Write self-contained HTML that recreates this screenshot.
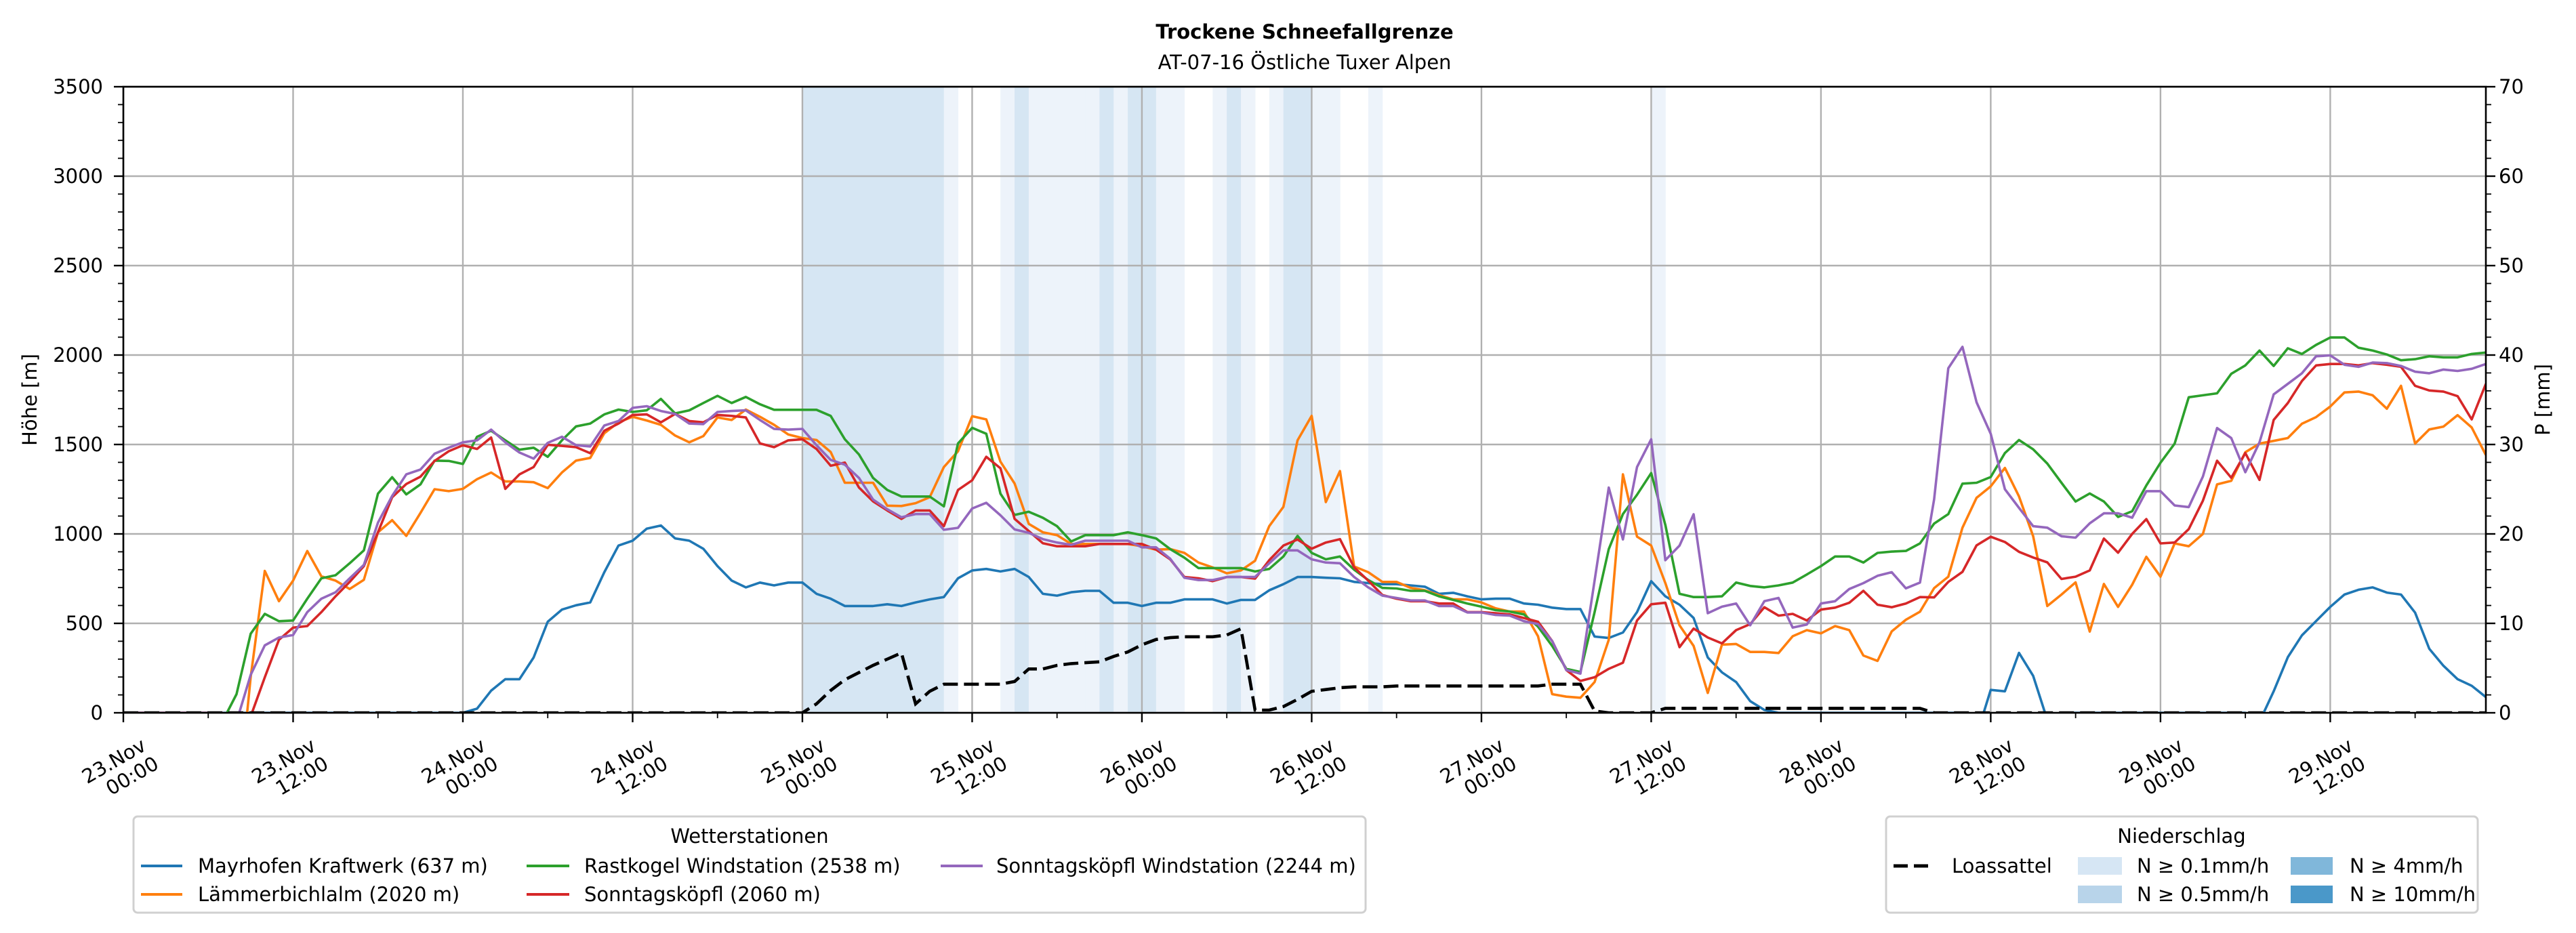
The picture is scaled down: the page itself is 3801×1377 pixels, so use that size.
<!DOCTYPE html>
<html><head><meta charset="utf-8"><style>
html,body{margin:0;padding:0;background:#fff;}
svg{display:block;font-family:"DejaVu Sans","Liberation Sans",sans-serif;}
</style></head><body>
<svg id="chart" xmlns="http://www.w3.org/2000/svg" width="3801" height="1377" viewBox="0 0 3801 1377">
<rect x="0" y="0" width="3801" height="1377" fill="#fff"/>
<text x="1925" y="57" text-anchor="middle" font-size="29" font-weight="bold">Trockene Schneefallgrenze</text>
<text x="1925" y="102" text-anchor="middle" font-size="29">AT-07-16 Östliche Tuxer Alpen</text>
<defs><clipPath id="pc"><rect x="182" y="128" width="3486" height="924"/></clipPath></defs>
<g id="bands" clip-path="url(#pc)"></g>
<g id="grid"></g>
<g id="series" clip-path="url(#pc)"></g>
<g id="axes"></g>
<text transform="translate(54,590) rotate(-90)" text-anchor="middle" font-size="29">Höhe [m]</text>
<text transform="translate(3762,590) rotate(-90)" text-anchor="middle" font-size="29">P [mm]</text>
<g>
<rect x="197" y="1205" width="1818" height="142" rx="6" fill="#fff" stroke="#d0d0d0" stroke-width="3"/>
<text x="1106" y="1244" text-anchor="middle" font-size="29">Wetterstationen</text>
<g><line x1="208" y1="1278" x2="269" y2="1278" stroke="#1f77b4" stroke-width="4"/><text x="292" y="1288" font-size="29">Mayrhofen Kraftwerk (637 m)</text></g>
<g><line x1="208" y1="1320" x2="269" y2="1320" stroke="#ff7f0e" stroke-width="4"/><text x="292" y="1330" font-size="29">Lämmerbichlalm (2020 m)</text></g>
<g><line x1="777" y1="1278" x2="840" y2="1278" stroke="#2ca02c" stroke-width="4"/><text x="862" y="1288" font-size="29">Rastkogel Windstation (2538 m)</text></g>
<g><line x1="777" y1="1320" x2="840" y2="1320" stroke="#d62728" stroke-width="4"/><text x="862" y="1330" font-size="29">Sonntagsköpfl (2060 m)</text></g>
<g><line x1="1388" y1="1278" x2="1450" y2="1278" stroke="#9467bd" stroke-width="4"/><text x="1470" y="1288" font-size="29">Sonntagsköpfl Windstation (2244 m)</text></g>
</g>
<g>
<rect x="2783" y="1205" width="873" height="142" rx="6" fill="#fff" stroke="#d0d0d0" stroke-width="3"/>
<text x="3219" y="1244" text-anchor="middle" font-size="29">Niederschlag</text>
<g><line x1="2794" y1="1278" x2="2853" y2="1278" stroke="#000" stroke-width="5" stroke-dasharray="21 9"/><text x="2880" y="1288" font-size="29">Loassattel</text></g>
<g><rect x="3066" y="1265" width="65" height="26" fill="#d6e6f4"/><text x="3153" y="1288" font-size="29">N ≥ 0.1mm/h</text></g>
<g><rect x="3066" y="1307" width="65" height="26" fill="#b8d4ea"/><text x="3153" y="1330" font-size="29">N ≥ 0.5mm/h</text></g>
<g><rect x="3380" y="1265" width="62" height="26" fill="#80b7da"/><text x="3467" y="1288" font-size="29">N ≥ 4mm/h</text></g>
<g><rect x="3380" y="1307" width="62" height="26" fill="#4a98c9"/><text x="3467" y="1330" font-size="29">N ≥ 10mm/h</text></g>
</g>
</svg>
<script>
const xTickLabels = ["23.Nov|00:00","23.Nov|12:00","24.Nov|00:00","24.Nov|12:00","25.Nov|00:00","25.Nov|12:00","26.Nov|00:00","26.Nov|12:00","27.Nov|00:00","27.Nov|12:00","28.Nov|00:00","28.Nov|12:00","29.Nov|00:00","29.Nov|12:00"];
const yTicks = [0,500,1000,1500,2000,2500,3000,3500];
const y2Ticks = [0,10,20,30,40,50,60,70];
const mayrhofen = [0,0,0,0,0,0,0,0,0,0,0,0,
0,0,0,0,0,0,0,0,0,0,0,0,
0,23,124,188,188,309,509,577,601,617,786,935,
962,1029,1047,975,962,917,820,739,701,728,712,728,
728,665,638,597,597,597,607,597,617,634,647,752,
796,804,790,804,759,665,655,674,682,682,615,615,
597,615,615,634,634,634,611,631,631,685,719,759,
759,755,752,732,725,719,719,712,705,665,671,651,
634,638,638,611,604,588,580,580,426,418,449,563,
736,651,604,530,309,226,172,65,16,0,0,0,
0,0,0,0,0,0,0,0,0,0,0,-128,
128,120,335,207,-40,0,0,0,0,0,0,0,
0,0,0,0,0,0,0,-50,120,311,433,513,
592,661,688,701,672,661,560,358,263,188,151,88];
const laemmerbichl = [0,0,0,0,0,0,0,0,-600,200,793,624,
739,904,763,739,692,743,1009,1077,989,1117,1250,1239,
1252,1306,1343,1293,1293,1289,1256,1343,1410,1425,1563,1624,
1655,1634,1610,1550,1512,1547,1651,1637,1695,1655,1610,1556,
1536,1525,1458,1286,1286,1286,1158,1156,1172,1205,1374,1462,
1658,1640,1404,1282,1056,1009,993,944,944,944,944,944,
931,912,915,894,840,813,780,796,850,1043,1151,1523,
1660,1178,1351,818,786,732,732,698,685,658,634,634,
617,584,566,566,428,104,90,84,172,408,1333,985,
935,725,489,374,111,381,385,340,340,334,428,462,
444,485,462,320,290,455,520,565,697,761,1035,1202,
1266,1369,1210,987,597,661,729,454,720,592,716,872,
761,947,931,1000,1277,1297,1457,1505,1520,1536,1616,1653,
1712,1791,1796,1775,1700,1828,1505,1584,1600,1664,1595,1441];
const rastkogel = [0,0,0,0,0,0,0,-50,104,442,553,512,
516,638,752,769,836,908,1225,1317,1221,1277,1410,1408,
1391,1543,1577,1523,1471,1482,1431,1523,1601,1617,1668,1695,
1682,1691,1755,1674,1691,1732,1772,1732,1766,1725,1694,1694,
1694,1694,1660,1529,1444,1313,1246,1209,1209,1209,1154,1506,
1593,1560,1225,1106,1124,1090,1043,958,993,993,993,1009,
993,975,915,867,809,809,809,809,790,804,874,989,
894,858,874,800,742,698,695,682,682,651,631,611,
593,574,566,550,482,374,246,228,563,915,1111,1219,
1340,1050,665,647,647,651,728,709,701,712,728,773,
820,874,874,840,894,901,905,947,1058,1111,1281,1286,
1318,1452,1525,1473,1393,1286,1181,1226,1181,1095,1127,1271,
1398,1505,1764,1775,1786,1895,1942,2025,1939,2038,2006,2057,
2098,2098,2041,2025,2003,1971,1977,1993,1987,1987,2006,2014];
const sonntag = [0,0,0,0,0,0,0,0,-200,-20,198,408,
476,485,563,651,732,820,1009,1205,1279,1320,1408,1462,
1496,1475,1539,1252,1333,1374,1498,1492,1485,1451,1577,1617,
1665,1668,1624,1671,1631,1624,1665,1660,1651,1506,1485,1523,
1529,1475,1381,1399,1259,1182,1131,1084,1131,1131,1043,1246,
1300,1431,1367,1084,1016,948,931,931,931,944,944,944,
944,912,858,759,752,736,759,759,750,853,935,969,
917,952,971,813,739,658,638,624,624,611,611,563,
563,557,550,530,509,401,239,178,199,246,280,516,
607,615,367,471,421,388,462,496,590,543,553,516,
577,588,615,682,604,590,611,647,645,732,788,936,
984,955,900,868,841,748,761,796,974,895,1000,1083,
947,952,1027,1186,1409,1314,1452,1302,1637,1732,1855,1942,
1950,1950,1942,1955,1946,1934,1828,1802,1796,1770,1640,1839];
const sonntagWind = [0,0,0,0,0,0,0,0,-50,212,377,421,
435,563,638,674,752,827,1063,1212,1333,1360,1448,1482,
1512,1523,1583,1512,1455,1421,1509,1543,1496,1489,1606,1631,
1705,1714,1687,1671,1617,1614,1682,1687,1691,1637,1587,1583,
1587,1496,1414,1387,1313,1192,1138,1093,1111,1111,1023,1034,
1142,1174,1104,1025,1006,971,952,939,962,962,962,962,
925,925,861,755,742,742,759,759,759,836,908,908,
858,840,836,759,701,655,642,628,628,597,597,561,
561,547,543,512,496,401,239,219,739,1259,969,1374,
1529,853,935,1110,557,593,611,489,624,642,476,493,
611,624,692,725,766,786,696,728,1194,1926,2046,1736,
1560,1250,1146,1043,1035,987,979,1059,1115,1115,1091,1239,
1239,1159,1150,1321,1592,1536,1345,1512,1780,1839,1898,1993,
1998,1946,1934,1958,1955,1939,1907,1898,1919,1911,1923,1950];
const loassattel = [0,0,0,0,0,0,0,0,0,0,0,0,
0,0,0,0,0,0,0,0,0,0,0,0,
0,0,0,0,0,0,0,0,0,0,0,0,
0,0,0,0,0,0,0,0,0,0,0,0,
0,1.0,2.5,3.7,4.5,5.3,6.0,6.7,1.0,2.4,3.2,3.2,
3.2,3.2,3.2,3.5,4.9,4.9,5.3,5.5,5.6,5.7,6.3,6.8,
7.6,8.2,8.4,8.5,8.5,8.5,8.7,9.4,0.3,0.3,0.7,1.5,
2.4,2.6,2.8,2.9,2.9,2.9,3.0,3.0,3.0,3.0,3.0,3.0,
3.0,3.0,3.0,3.0,3.0,3.2,3.2,3.2,0.2,0,0,0,
0,0.5,0.5,0.5,0.5,0.5,0.5,0.5,0.5,0.5,0.5,0.5,
0.5,0.5,0.5,0.5,0.5,0.5,0.5,0.5,0,0,0,0,
0,0,0,0,0,0,0,0,0,0,0,0,
0,0,0,0,0,0,0,0,0,0,0,0,
0,0,0,0,0,0,0,0,0,0,0,0];
const precipHours = [48,49,50,51,52,53,54,55,56,57,58,62,63,64,65,66,67,68,69,70,71,72,73,74,77,78,79,81,82,83,84,85,88,108];
const precipClass = [2,2,2,2,2,2,2,2,2,2,1,1,2,1,1,1,1,1,2,1,2,2,1,1,1,2,1,1,2,2,1,1,1,1];

const NS = "http://www.w3.org/2000/svg";
const L = 182, R = 3668, T = 128, B = 1052, NH = 167;
const xS = h => L + h * (R - L) / NH;
const yS = v => B - v * (B - T) / 3500;
const y2S = v => B - v * (B - T) / 70;
function mk(tag, attrs, parent) {
  const e = document.createElementNS(NS, tag);
  for (const k in attrs) e.setAttribute(k, attrs[k]);
  parent.appendChild(e);
  return e;
}
const bands = document.getElementById('bands');
const grid = document.getElementById('grid');
const series = document.getElementById('series');
const axes = document.getElementById('axes');
const bandColors = {1: '#edf3fa', 2: '#d6e6f3'};

precipHours.forEach((h, i) => {
  const r = mk('rect', {x: xS(h), y: T, width: xS(h + 1) - xS(h) + 0.5, height: B - T, fill: bandColors[precipClass[i]]}, bands);
  
  
});

xTickLabels.forEach((lab, i) => {
  const x = xS(i * 12);
  const g = mk('line', {x1: x, y1: T, x2: x, y2: B, stroke: '#b0b0b0', 'stroke-width': 2.4}, grid);
  
  
});
yTicks.forEach(v => {
  const g = mk('line', {x1: L, y1: yS(v), x2: R, y2: yS(v), stroke: '#b0b0b0', 'stroke-width': 2.4}, grid);
  
  
});

function drawLine(data, color, name) {
  const d = data.map((v, h) => (h ? 'L' : 'M') + xS(h).toFixed(1) + ',' + yS(v).toFixed(1)).join('');
  const p = mk('path', {d: d, fill: 'none', stroke: color, 'stroke-width': 3.6, 'stroke-linejoin': 'round'}, series);
  
  
}
drawLine(mayrhofen, '#1f77b4', 'line-mayrhofen');
drawLine(laemmerbichl, '#ff7f0e', 'line-laemmerbichlalm');
drawLine(rastkogel, '#2ca02c', 'line-rastkogel');
drawLine(sonntag, '#d62728', 'line-sonntagskoepfl');
drawLine(sonntagWind, '#9467bd', 'line-sonntagskoepfl-wind');
{
  const d = loassattel.map((v, h) => (h ? 'L' : 'M') + xS(h).toFixed(1) + ',' + y2S(v).toFixed(1)).join('');
  const p = mk('path', {d: d, fill: 'none', stroke: '#000', 'stroke-width': 4.6, 'stroke-dasharray': '22 9'}, series);
  
  
}

const frame = mk('rect', {x: L, y: T, width: R - L, height: B - T, fill: 'none', stroke: '#000', 'stroke-width': 2.6}, axes);



for (let v = 0; v <= 3500; v += 100) {
  const major = v % 500 === 0;
  const t = mk('line', {x1: L, y1: yS(v), x2: L - (major ? 14 : 8), y2: yS(v), stroke: '#000', 'stroke-width': major ? 2.4 : 1.8}, axes);
  
  
}
yTicks.forEach(v => {
  const t = mk('text', {x: 152, y: yS(v) + 10, 'text-anchor': 'end', 'font-size': 29}, axes);
  t.textContent = v;
  
  
});
for (let v = 0; v <= 70; v += 2) {
  const major = v % 10 === 0;
  const t = mk('line', {x1: R, y1: y2S(v), x2: R + (major ? 14 : 8), y2: y2S(v), stroke: '#000', 'stroke-width': major ? 2.4 : 1.8}, axes);
  
  
}
y2Ticks.forEach(v => {
  const t = mk('text', {x: 3687, y: y2S(v) + 10, 'text-anchor': 'start', 'font-size': 29}, axes);
  t.textContent = v;
  
  
});
for (let h = 0; h <= NH; h += 6) {
  const major = h % 12 === 0;
  const t = mk('line', {x1: xS(h), y1: B, x2: xS(h), y2: B + (major ? 14 : 8), stroke: '#000', 'stroke-width': major ? 2.4 : 1.8}, axes);
  
  
}
xTickLabels.forEach((lab, i) => {
  const x = xS(i * 12);
  const parts = lab.split('|');
  const c1 = [x - 14, 1123], c2 = [x + 13, 1145];
  const t1 = mk('text', {x: c1[0], y: c1[1] + 10, 'text-anchor': 'middle', 'font-size': 29, transform: 'rotate(-30 ' + c1[0] + ' ' + c1[1] + ')'}, axes);
  t1.textContent = parts[0];
  
  
  const t2 = mk('text', {x: c2[0], y: c2[1] + 10, 'text-anchor': 'middle', 'font-size': 29, transform: 'rotate(-30 ' + c2[0] + ' ' + c2[1] + ')'}, axes);
  t2.textContent = parts[1];
  
  
});
</script>
</body></html>
